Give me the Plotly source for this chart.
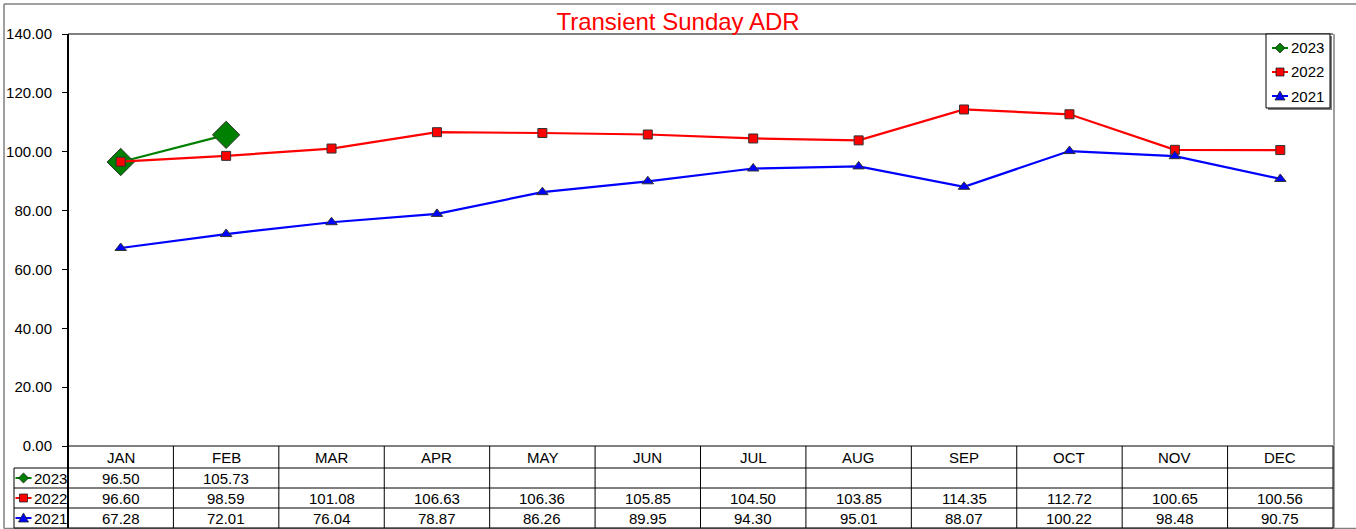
import plotly.graph_objects as go

# ---- data -------------------------------------------------------------
months = ["JAN", "FEB", "MAR", "APR", "MAY", "JUN",
          "JUL", "AUG", "SEP", "OCT", "NOV", "DEC"]
adr_2023 = [96.50, 105.73]
adr_2022 = [96.60, 98.59, 101.08, 106.63, 106.36, 105.85,
            104.50, 103.85, 114.35, 112.72, 100.65, 100.56]
adr_2021 = [67.28, 72.01, 76.04, 78.87, 86.26, 89.95,
            94.30, 95.01, 88.07, 100.22, 98.48, 90.75]
y_ticks = [0, 20, 40, 60, 80, 100, 120, 140]

FONT = "Liberation Sans, Arial, sans-serif"
W, H = 1356, 529
L, R, T, B = 68, 1333, 34, 446   # plot area in pixels

def px(x):
    return (x - L) / (R - L)

def py(y):
    return (B - y) / (B - T)

series = [
    ("2023", adr_2023, "#008000", "diamond", 21),
    ("2022", adr_2022, "#FF0000", "square", 9),
    ("2021", adr_2021, "#0000FF", "triangle-up", 10),
]

fig = go.Figure()
for name, vals, color, symbol, size in series:
    fig.add_trace(go.Scatter(
        x=months[:len(vals)], y=vals, name=name, mode="lines+markers",
        line=dict(color=color, width=2.2),
        marker=dict(symbol=symbol, size=size, color=color,
                    line=dict(color="#333333", width=1)),
        showlegend=False, cliponaxis=False,
    ))

shapes = []
annotations = []

def line(x0, y0, x1, y1, color="black", width=1, xref="paper"):
    shapes.append(dict(type="line", xref=xref, yref="paper",
                       x0=x0, y0=y0, x1=x1, y1=y1,
                       line=dict(color=color, width=width)))

# outer chart frame
line(px(4), py(4), px(W), py(4), "#808080", 1.5)
line(px(4), py(4), px(4), py(528.5), "#808080", 1.5)
line(px(4), py(528.5), px(W), py(528.5), "#808080", 1.5)

# plot area border
line(px(L), py(T), px(R), py(T), "black", 1)
line(px(R + 1), py(T), px(R + 1), py(528), "#808080", 1.5)

# data table grid
row_tops = [446, 468, 488, 508, 528]
line(px(L), py(446), px(R), py(446), "black", 1)
for yy in row_tops[1:]:
    line(px(14), py(yy), px(R), py(yy), "black", 1)
line(px(14), py(468), px(14), py(528), "black", 1)
line(px(L), py(T), px(L), py(528), "black", 2)
line(px(R), py(446), px(R), py(528), "black", 1)
for i in range(1, len(months)):
    shapes.append(dict(type="line", xref="x", yref="paper",
                       x0=i - 0.5, x1=i - 0.5, y0=py(446), y1=py(528),
                       line=dict(color="black", width=1)))

def text(x, y, s, xref="paper", xanchor="center", size=15, color="black"):
    annotations.append(dict(x=x, y=y, xref=xref, yref="paper", text=s,
                            showarrow=False, xanchor=xanchor,
                            yanchor="middle",
                            font=dict(family=FONT, size=size, color=color)))

# header row: month names
for i, m in enumerate(months):
    text(i, py(457), m, xref="x")

# value rows
row_centers = [478, 498, 518]
for (name, vals, color, symbol, size), yc in zip(series, row_centers):
    for i, v in enumerate(vals):
        text(i, py(yc), f"{v:.2f}", xref="x")

def key(xc, yc, color, symbol):
    # small line + marker legend key
    line(px(xc - 8), py(yc), px(xc + 8), py(yc), color, 2)
    if symbol == "diamond":
        pts = [(xc, yc - 5), (xc + 5, yc), (xc, yc + 5), (xc - 5, yc)]
    elif symbol == "square":
        pts = [(xc - 4, yc - 4), (xc + 4, yc - 4),
               (xc + 4, yc + 4), (xc - 4, yc + 4)]
    else:
        pts = [(xc, yc - 5), (xc + 5, yc + 4), (xc - 5, yc + 4)]
    path = "M " + " L ".join(f"{px(a):.6f},{py(b):.6f}" for a, b in pts) + " Z"
    shapes.append(dict(type="path", xref="paper", yref="paper", path=path,
                       fillcolor=color, line=dict(color="#222222", width=0.8)))

# row labels with keys
for (name, vals, color, symbol, size), yc in zip(series, row_centers):
    key(23.5, yc, color, symbol)
    text(px(32), py(yc), name, xanchor="left")

# legend box (with shadow)
shapes.append(dict(type="rect", xref="paper", yref="paper",
                   x0=px(1268), y0=py(36), x1=px(1332), y1=py(110),
                   fillcolor="#808080", line=dict(width=0)))
shapes.append(dict(type="rect", xref="paper", yref="paper",
                   x0=px(1266), y0=py(34), x1=px(1330), y1=py(108),
                   fillcolor="white", line=dict(color="black", width=1)))
for (name, vals, color, symbol, size), yc in zip(series, [48, 72, 96]):
    key(1280, yc, color, symbol)
    text(px(1289), py(yc), name, xanchor="left")

fig.update_layout(
    width=W, height=H,
    margin=dict(l=L, r=W - R, t=T, b=H - B, autoexpand=False),
    paper_bgcolor="white", plot_bgcolor="white",
    title=dict(text="Transient Sunday ADR", xref="container", x=0.5,
               xanchor="center", yref="container", y=1 - 22 / H,
               yanchor="middle", automargin=False,
               font=dict(family=FONT, size=24, color="#FF0000")),
    xaxis=dict(type="category", categoryarray=months, range=[-0.5, 11.5],
               showticklabels=False, ticks="", showgrid=False,
               zeroline=False, showline=False, fixedrange=True,
               automargin=False),
    yaxis=dict(range=[0, 140], tickvals=y_ticks, tickformat=".2f",
               ticks="outside", ticklen=5, tickcolor="black", tickwidth=1,
               showgrid=False, zeroline=False, showline=False,
               automargin=False,
               tickfont=dict(family=FONT, size=15, color="black"),
               ticklabelstandoff=7),
    shapes=shapes, annotations=annotations,
    showlegend=False,
)

fig.write_html("out.html")
